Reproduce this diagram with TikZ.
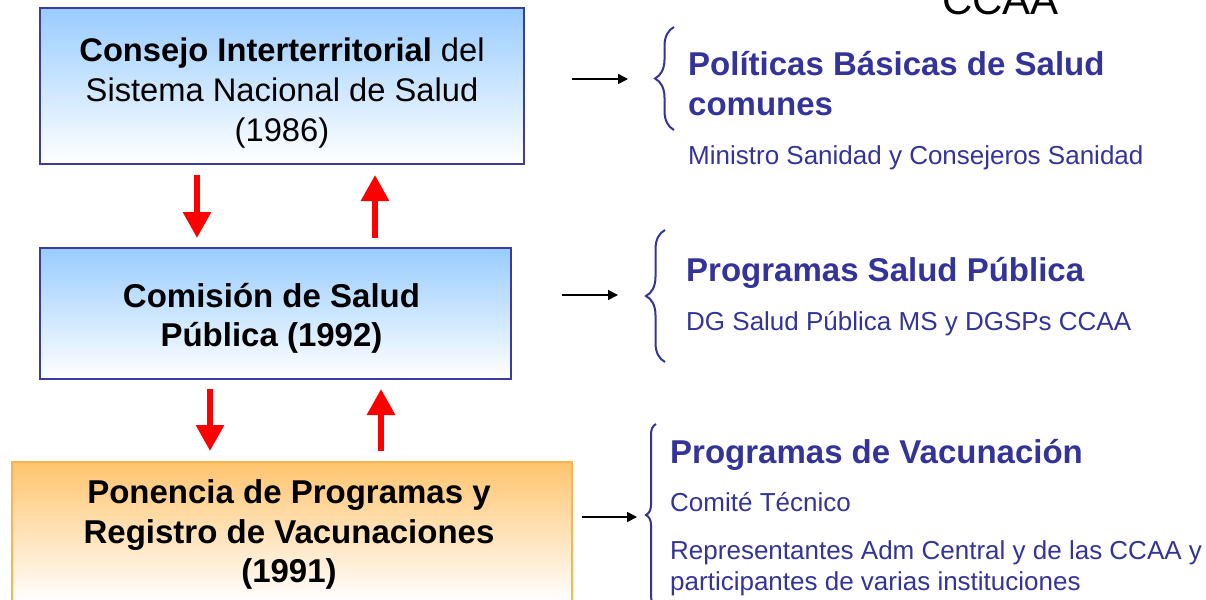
\documentclass[tikz,border=0pt]{standalone}
\usepackage{fontspec}
\setmainfont{Liberation Sans}
\usetikzlibrary{arrows.meta,decorations.pathreplacing,calc}
\definecolor{boxblue}{RGB}{153,204,255}
\definecolor{boxline}{RGB}{60,60,160}
\definecolor{orangetop}{RGB}{255,196,110}
\definecolor{orangeline}{RGB}{250,180,80}
\definecolor{textblue}{RGB}{51,51,153}
\begin{document}
\begin{tikzpicture}[x=1pt,y=-1pt,
  bluebox/.style={draw=boxline, line width=2pt, top color=boxblue, bottom color=white, inner sep=0pt},
  orangebox/.style={draw=orangeline, line width=2pt, top color=orangetop, bottom color=white, inner sep=0pt},
  boxtext/.style={inner sep=0pt, align=center, font=\fontsize{32.7}{40}\selectfont},
  boldtext/.style={inner sep=0pt, align=center, font=\fontsize{33}{39.5}\selectfont\bfseries},
  redarr/.style={red, line width=6pt, -{Triangle[length=26pt,width=27pt]}},
  blackarr/.style={black, line width=1.5pt, -{Triangle[length=10pt,width=10pt]}},
  bracestyle/.style={textblue, line width=2pt, decorate},
  head/.style={anchor=base west, inner sep=0pt, text=textblue, font=\fontsize{33}{39}\selectfont\bfseries},
  sub/.style={anchor=base west, inner sep=0pt, text=textblue, font=\fontsize{26}{31}\selectfont}]
\clip (0,0) rectangle (1206,599);
\useasboundingbox (0,0) rectangle (1206,599);

% title fragment
\node[anchor=base west, inner sep=0pt, font=\fontsize{42}{50}\selectfont] (ccaa) at (942,15) {CCAA};

% boxes
\node[bluebox, minimum width=484pt, minimum height=156pt] (b1) at (282,86) {};
\node[bluebox, minimum width=471pt, minimum height=131pt] (b2) at (275.5,313.5) {};
\node[orangebox, minimum width=560pt, minimum height=139pt] (b3) at (292,531.5) {};

\node[boxtext] (t1) at ([yshift=-7pt]b1.center)
  {\textbf{Consejo Interterritorial} del\\Sistema Nacional de Salud\\(1986)};
\node[boldtext] (t2) at ([xshift=-4pt,yshift=-5pt]b2.center)
  {Comisión de Salud\\Pública (1992)};
\node[boldtext] (t3) at ([xshift=-3pt,yshift=-3pt]b3.center)
  {Ponencia de Programas y\\Registro de Vacunaciones\\(1991)};

% red arrows
\draw[redarr] ([xshift=-85pt,yshift=-10pt]b1.south) -- ([xshift=-78.5pt,yshift=9pt]b2.north);
\draw[redarr] ([xshift=99.5pt,yshift=9pt]b2.north) -- ([xshift=93pt,yshift=-10pt]b1.south);
\draw[redarr] ([xshift=-65.5pt,yshift=-9pt]b2.south) -- ([xshift=-82pt,yshift=10pt]b3.north);
\draw[redarr] ([xshift=89pt,yshift=10pt]b3.north) -- ([xshift=105.5pt,yshift=-9pt]b2.south);

% black arrows
\coordinate (a1s) at (572,79);
\coordinate (a1e) at (628,79);
\coordinate (a2s) at (562,295);
\coordinate (a2e) at (618,295);
\coordinate (a3s) at (582,517);
\coordinate (a3e) at (637,517);
\draw[blackarr] (a1s) -- (a1e);
\draw[blackarr] (a2s) -- (a2e);
\draw[blackarr] (a3s) -- (a3e);

% braces
\coordinate (br1a) at (674,130);
\coordinate (br1b) at (674,27);
\coordinate (br2a) at (665,362);
\coordinate (br2b) at (665,230);
\coordinate (br3a) at (656,606);
\coordinate (br3b) at (656,424);
\draw[bracestyle, decoration={brace, amplitude=19pt}] (br1a) -- (br1b);
\draw[bracestyle, decoration={brace, amplitude=19pt}] (br2a) -- (br2b);
\draw[bracestyle, decoration={brace, amplitude=10pt}] (br3a) -- (br3b);

% right texts
\node[head] (h1a) at (688,76) {Políticas Básicas de Salud};
\node[head] (h1b) at (688,115) {comunes};
\node[sub] (s1) at (688,164) {Ministro Sanidad y Consejeros Sanidad};

\node[head] (h2) at (686,281) {Programas Salud Pública};
\node[sub] (s2) at (686,330) {DG Salud Pública MS y DGSPs CCAA};

\node[head] (h3) at (670,463) {Programas de Vacunación};
\node[sub] (s3a) at (670,511) {Comité Técnico};
\node[sub] (s3b) at (670,559) {Representantes Adm Central y de las CCAA y};
\node[sub] (s3c) at (670,590) {participantes de varias instituciones};
\end{tikzpicture}
\end{document}
